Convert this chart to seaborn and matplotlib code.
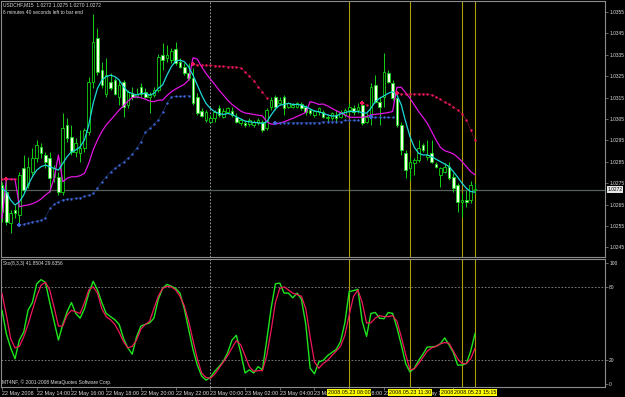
import numpy as np
import matplotlib
matplotlib.use("Agg")
import matplotlib.pyplot as plt
import matplotlib.transforms as mtransforms
import seaborn as sns

# ---------------- data (USDCHF M15, 22 May 2008 12:00 -> 23 May 2008 15:15) ----------------
open_ = [1.02741, 1.02710, 1.02562, 1.02625, 1.02601, 1.02819, 1.02741, 1.02804, 1.02866, 1.02920,
         1.02882, 1.02866, 1.02780, 1.02780, 1.02710, 1.03022, 1.02967, 1.02897, 1.02890, 1.02913,
         1.02991, 1.03224, 1.03427, 1.03279, 1.03169, 1.03224, 1.03232, 1.03154, 1.03224, 1.03115,
         1.03169, 1.03154, 1.03201, 1.03177, 1.03154, 1.03162, 1.03185, 1.03349, 1.03333, 1.03325,
         1.03377, 1.03318, 1.03294, 1.03263, 1.03240, 1.03154, 1.03087, 1.03045, 1.03037, 1.03053,
         1.03100, 1.03061, 1.03084, 1.03087, 1.03061, 1.03029, 1.03029, 1.03025, 1.03022, 1.03029,
         1.03037, 1.03006, 1.03107, 1.03154, 1.03123, 1.03154, 1.03107, 1.03107, 1.03107, 1.03118,
         1.03107, 1.03092, 1.03068, 1.03081, 1.03085, 1.03054, 1.03054, 1.03069, 1.03061, 1.03069,
         1.03092, 1.03100, 1.03092, 1.03116, 1.03038, 1.03069, 1.03209, 1.03131, 1.03155, 1.03265,
         1.03219, 1.03147, 1.03022, 1.02891, 1.02819, 1.02843, 1.02859, 1.02929, 1.02874, 1.02890,
         1.02839, 1.02789, 1.02804, 1.02828, 1.02781, 1.02742, 1.02664, 1.02672, 1.02672, 1.02720]
high = [1.02757, 1.02765, 1.02625, 1.02648, 1.02804, 1.02882, 1.02874, 1.02913, 1.02952, 1.02936,
        1.02897, 1.02897, 1.02835, 1.02804, 1.03076, 1.03053, 1.03022, 1.02959, 1.02999, 1.03006,
        1.03248, 1.03541, 1.03473, 1.03318, 1.03333, 1.03263, 1.03240, 1.03232, 1.03232, 1.03185,
        1.03201, 1.03193, 1.03216, 1.03193, 1.03177, 1.03201, 1.03356, 1.03403, 1.03396, 1.03380,
        1.03411, 1.03333, 1.03310, 1.03310, 1.03287, 1.03170, 1.03100, 1.03092, 1.03068, 1.03092,
        1.03115, 1.03100, 1.03107, 1.03107, 1.03076, 1.03053, 1.03045, 1.03053, 1.03045, 1.03053,
        1.03045, 1.03100, 1.03154, 1.03162, 1.03154, 1.03162, 1.03131, 1.03123, 1.03131, 1.03131,
        1.03115, 1.03100, 1.03092, 1.03107, 1.03092, 1.03069, 1.03085, 1.03092, 1.03092, 1.03100,
        1.03124, 1.03116, 1.03124, 1.03139, 1.03077, 1.03217, 1.03256, 1.03155, 1.03359, 1.03279,
        1.03233, 1.03155, 1.03038, 1.02905, 1.02874, 1.02867, 1.02952, 1.02937, 1.02952, 1.02952,
        1.02851, 1.02828, 1.02843, 1.02851, 1.02796, 1.02750, 1.02703, 1.02719, 1.02758, 1.02750]
low = [1.02570, 1.02554, 1.02515, 1.02586, 1.02554, 1.02702, 1.02726, 1.02788, 1.02850, 1.02866,
       1.02819, 1.02710, 1.02757, 1.02695, 1.02695, 1.02944, 1.02882, 1.02874, 1.02850, 1.02897,
       1.02975, 1.03193, 1.03255, 1.03193, 1.03154, 1.03185, 1.03162, 1.03115, 1.03061, 1.03100,
       1.03138, 1.03146, 1.03154, 1.03146, 1.03076, 1.03154, 1.03177, 1.03279, 1.03318, 1.03310,
       1.03302, 1.03287, 1.03255, 1.03232, 1.03115, 1.03068, 1.03061, 1.03037, 1.03029, 1.03037,
       1.03061, 1.03053, 1.03076, 1.03061, 1.03029, 1.03022, 1.03014, 1.03019, 1.03014, 1.03022,
       1.02991, 1.02999, 1.03092, 1.03092, 1.03115, 1.03068, 1.03100, 1.03100, 1.03100, 1.03092,
       1.03068, 1.03068, 1.03061, 1.03071, 1.03054, 1.03038, 1.03046, 1.03038, 1.03054, 1.03061,
       1.03077, 1.03069, 1.03077, 1.03022, 1.03030, 1.03022, 1.03124, 1.03022, 1.03108, 1.03217,
       1.03139, 1.03014, 1.02882, 1.02773, 1.02765, 1.02789, 1.02851, 1.02898, 1.02859, 1.02843,
       1.02820, 1.02734, 1.02796, 1.02765, 1.02711, 1.02617, 1.02594, 1.02641, 1.02656, 1.02700]
close = [1.02617, 1.02570, 1.02609, 1.02609, 1.02788, 1.02718, 1.02827, 1.02866, 1.02928, 1.02889,
         1.02850, 1.02773, 1.02819, 1.02710, 1.03006, 1.02959, 1.02897, 1.02936, 1.02913, 1.02999,
         1.03224, 1.03411, 1.03271, 1.03209, 1.03255, 1.03193, 1.03169, 1.03209, 1.03107, 1.03177,
         1.03154, 1.03169, 1.03169, 1.03154, 1.03162, 1.03185, 1.03341, 1.03325, 1.03349, 1.03367,
         1.03310, 1.03294, 1.03263, 1.03240, 1.03123, 1.03076, 1.03065, 1.03084, 1.03056, 1.03081,
         1.03068, 1.03087, 1.03100, 1.03068, 1.03037, 1.03045, 1.03022, 1.03045, 1.03034, 1.03045,
         1.02999, 1.03092, 1.03138, 1.03107, 1.03138, 1.03100, 1.03123, 1.03115, 1.03126, 1.03100,
         1.03081, 1.03076, 1.03087, 1.03100, 1.03061, 1.03061, 1.03077, 1.03054, 1.03085, 1.03092,
         1.03108, 1.03085, 1.03108, 1.03030, 1.03061, 1.03201, 1.03131, 1.03108, 1.03271, 1.03223,
         1.03148, 1.03022, 1.02905, 1.02812, 1.02851, 1.02859, 1.02913, 1.02905, 1.02882, 1.02851,
         1.02828, 1.02820, 1.02828, 1.02773, 1.02726, 1.02664, 1.02672, 1.02664, 1.02742, 1.02720]

ma_fast = [1.02726, 1.02710, 1.02671, 1.02648, 1.02663, 1.02695, 1.02741, 1.02780, 1.02811, 1.02827,
           1.02835, 1.02827, 1.02819, 1.02811, 1.02842, 1.02874, 1.02897, 1.02905, 1.02920, 1.02952,
           1.03022, 1.03123, 1.03193, 1.03232, 1.03248, 1.03255, 1.03248, 1.03232, 1.03201, 1.03177,
           1.03169, 1.03162, 1.03169, 1.03169, 1.03162, 1.03169, 1.03193, 1.03209, 1.03255, 1.03294,
           1.03321, 1.03325, 1.03318, 1.03294, 1.03255, 1.03209, 1.03162, 1.03123, 1.03100, 1.03084,
           1.03076, 1.03071, 1.03076, 1.03071, 1.03061, 1.03050, 1.03040, 1.03037, 1.03034, 1.03033,
           1.03029, 1.03037, 1.03068, 1.03097, 1.03115, 1.03118, 1.03123, 1.03118, 1.03118, 1.03115,
           1.03107, 1.03097, 1.03087, 1.03084, 1.03077, 1.03069, 1.03064, 1.03064, 1.03074, 1.03080,
           1.03085, 1.03085, 1.03085, 1.03080, 1.03077, 1.03100, 1.03131, 1.03147, 1.03158, 1.03170,
           1.03178, 1.03162, 1.03116, 1.03038, 1.02968, 1.02918, 1.02890, 1.02882, 1.02882, 1.02874,
           1.02862, 1.02851, 1.02840, 1.02828, 1.02804, 1.02778, 1.02750, 1.02726, 1.02711, 1.02708]
ma_slow = [1.02586, 1.02769, 1.02769, 1.02769, 1.02640, 1.02645, 1.02648, 1.02654, 1.02663, 1.02676,
           1.02695, 1.02710, 1.02773, 1.02882, 1.02757, 1.02773, 1.02780, 1.02780, 1.02785, 1.02796,
           1.02843, 1.02905, 1.02952, 1.02991, 1.03022, 1.03045, 1.03068, 1.03092, 1.03112, 1.03134,
           1.03149, 1.03154, 1.03149, 1.03143, 1.03134, 1.03131, 1.03138, 1.03138, 1.03159, 1.03177,
           1.03190, 1.03201, 1.03212, 1.03232, 1.03336, 1.03330, 1.03294, 1.03263, 1.03237, 1.03212,
           1.03185, 1.03162, 1.03138, 1.03118, 1.03103, 1.03087, 1.03078, 1.03075, 1.03071, 1.03068,
           1.03065, 1.03037, 1.03026, 1.03026, 1.03031, 1.03037, 1.03045, 1.03053, 1.03062, 1.03071,
           1.03081, 1.03131, 1.03126, 1.03118, 1.03120, 1.03111, 1.03100, 1.03089, 1.03080, 1.03069,
           1.03058, 1.03058, 1.03058, 1.03058, 1.03061, 1.03069, 1.03072, 1.03074, 1.03077, 1.03080,
           1.03085, 1.03198, 1.03198, 1.03173, 1.03147, 1.03116, 1.03085, 1.03058, 1.03030, 1.02991,
           1.02952, 1.02918, 1.02902, 1.02895, 1.02887, 1.02871, 1.02851, 1.02828, 1.02804, 1.02789]

psar_up = ([None] * 4 +
           [1.02554, 1.02559, 1.02564, 1.02569, 1.02573, 1.02578, 1.02589, 1.02632, 1.02651, 1.02663,
            1.02673, 1.02676, 1.02678, 1.02679, 1.02682, 1.02688, 1.02695, 1.02702, 1.02726, 1.02757,
            1.02780, 1.02804, 1.02819, 1.02835, 1.02850, 1.02866, 1.02885, 1.02913, 1.02944, 1.02987,
            1.03006, 1.03025, 1.03045, 1.03081, 1.03123, 1.03153, 1.03156, 1.03156, 1.03157, 1.03159] +
           [None] * 19 + [1.03033] * 11 + [1.03038] * 5 + [1.03043] * 4 +
           [None] * 2 + [1.03058] * 6 + [None] * 19)
psar_dn = ([1.02769] * 4 + [None] * 40 +
           [1.03305, 1.03304, 1.03302, 1.03302, 1.03301, 1.03299, 1.03297, 1.03296, 1.03294, 1.03294,
            1.03293, 1.03290, 1.03271, 1.03252, 1.03229, 1.03201, 1.03177, 1.03149] +
           [None] * 21 + [1.03127, 1.03116] + [None] * 6 +
           [1.03170] + [1.03167] * 7 +
           [1.03164, 1.03155, 1.03142, 1.03128, 1.03119, 1.03108, 1.03092, 1.03074, 1.03046, 1.02999, 1.02952])
flip_dn_bars = [1, 44, 83, 91]
flip_dn_vals = [1.02769, 1.03305, 1.03127, 1.03170]
flip_up_bars = [4, 63, 85]
flip_up_vals = [1.02554, 1.03033, 1.03058]

stoch_k = [60.9, 41.5, 29.8, 20.8, 36.3, 42.8, 61.0, 67.3, 82.8, 86.2,
           84.0, 67.3, 51.8, 36.3, 49.2, 59.6, 67.3, 58.3, 54.4, 62.2,
           75.0, 84.9, 77.7, 67.3, 58.3, 55.7, 53.1, 49.2, 37.6, 29.8,
           24.7, 38.9, 47.9, 49.2, 50.5, 54.4, 69.9, 79.0, 82.3, 80.8,
           79.0, 75.1, 62.2, 45.3, 28.5, 15.6, 6.6, 3.2, 5.3, 10.4,
           14.3, 18.7, 26.0, 36.3, 40.2, 26.0, 9.1, 11.7, 9.1, 14.3,
           11.7, 36.3, 62.2, 82.8, 83.4, 75.1, 75.1, 71.2, 75.1, 69.9,
           49.2, 13.0, 8.4, 18.2, 19.5, 23.4, 26.0, 28.5, 35.0, 50.5,
           76.4, 77.2, 78.2, 51.8, 39.4, 58.3, 59.1, 54.4, 53.9, 59.1,
           58.3, 46.6, 32.4, 16.9, 9.9, 13.0, 19.5, 24.7, 30.6, 30.6,
           31.1, 33.2, 38.1, 32.4, 26.0, 15.6, 15.6, 16.9, 27.2, 41.85]
stoch_d = [75.0, 57.0, 37.6, 29.8, 31.1, 38.9, 49.2, 60.9, 72.5, 81.6,
           84.1, 77.7, 63.4, 47.9, 47.9, 57.0, 60.9, 59.6, 58.3, 67.3,
           77.7, 80.3, 75.1, 62.2, 55.7, 53.1, 49.2, 42.8, 35.0, 29.8,
           31.1, 36.3, 45.3, 49.2, 51.8, 62.2, 72.5, 79.0, 80.8, 80.3,
           77.7, 72.5, 64.7, 51.8, 36.3, 20.8, 9.1, 5.3, 4.7, 7.9,
           13.0, 18.2, 23.4, 29.8, 35.8, 32.4, 23.4, 14.3, 10.4, 11.0,
           11.0, 23.4, 44.0, 67.3, 79.0, 80.3, 77.7, 75.1, 73.8, 72.5,
           62.2, 38.9, 18.2, 13.0, 16.9, 19.5, 23.4, 27.2, 31.1, 40.2,
           57.0, 72.5, 77.7, 67.3, 50.5, 50.5, 54.4, 56.5, 55.7, 55.7,
           56.5, 51.8, 38.9, 24.7, 11.7, 12.5, 16.9, 22.1, 27.2, 29.8,
           31.1, 33.2, 34.2, 33.7, 27.2, 20.8, 16.9, 16.9, 20.8, 29.64]

price_ticks = [1.0245, 1.0255, 1.0265, 1.0275, 1.0285, 1.0295, 1.0305, 1.0315, 1.0325, 1.0335, 1.0345, 1.0355]
time_tick_bars = [0, 8, 16, 24, 32, 40, 48, 56, 64, 72, 80, 88, 96, 104]
time_tick_labels = ["22 May 2008", "22 May 14:00", "22 May 16:00", "22 May 18:00", "22 May 20:00",
                    "22 May 22:00", "23 May 00:00", "23 May 02:00", "23 May 04:00", "23 May 06:00",
                    "23 May 08:00", "23 May 10:00", "23 May 12:00", "23 May 14:00"]
day_sep_bar = 48
vline_bars = [80, 94, 106, 109]
vline_labels = ["2008.05.23 08:00", "2008.05.23 11:30", "2008.05.23 14:30", "2008.05.23 15:15"]
bid = 1.0272
header = "USDCHF,M15  1.0272 1.0275 1.0270 1.0272"
timer_text = "6 minutes 40 seconds left to bar end"
stoch_title = "Sto(8,3,3) 41.8504 29.6356"
copyright_text = "MT4NF, \u00a9 2001-2008 MetaQuotes Software Corp."

# ---------------- styling ----------------
W, H = 625, 397
sns.set_theme(style="dark", rc={"axes.facecolor": "black", "figure.facecolor": "black",
                                "axes.edgecolor": "#8c8c8c", "axes.linewidth": 0.8})
plt.rcParams['font.family'] = ['Liberation Sans', 'DejaVu Sans']

GREEN = "#14d214"
WHITE_BODY = "#f2ffe6"
CYAN = "#1ed8d8"
MAGENTA = "#e214e2"
BLUE = "#3c64d2"
RED = "#f0185a"
YELLOW = "#ac9e08"
TXT = "#dcdcdc"
FS = 3.9
FS_SMALL = 3.5

fig = plt.figure(figsize=(W / 100, H / 100), dpi=100, facecolor="black")


def box(x0, y0, x1, y1):
    return [x0 / W, 1 - y1 / H, (x1 - x0) / W, (y1 - y0) / H]


ax = fig.add_axes(box(1, 1, 605, 257))
ax2 = fig.add_axes(box(1, 259, 605, 387), sharex=ax)

idx = np.arange(len(close))
o = np.array(open_); h = np.array(high); l = np.array(low); c = np.array(close)
bull = c >= o

# candles
ax.vlines(idx, l, h, color=GREEN, lw=0.7, zorder=3)
body_b = np.minimum(o, c)
body_h = np.maximum(np.abs(c - o), 0.00003)
ax.bar(idx, body_h, bottom=body_b, width=0.6,
       color=["black" if b else WHITE_BODY for b in bull],
       edgecolor=GREEN, linewidth=0.6, zorder=4)

# indicator lines
sns.lineplot(x=idx, y=ma_slow, ax=ax, color=MAGENTA, lw=0.9, zorder=5)
sns.lineplot(x=idx, y=ma_fast, ax=ax, color=CYAN, lw=0.9, zorder=6)

pu = np.array(psar_up, dtype=float)
pd_ = np.array(psar_dn, dtype=float)
ax.plot(idx, pu, color=BLUE, lw=0.4, alpha=0.6, zorder=6)
ax.plot(idx, pd_, color=RED, lw=0.4, alpha=0.6, zorder=6)
sns.scatterplot(x=idx, y=pu, ax=ax, color=BLUE, s=3, marker="o", linewidth=0, zorder=7)
sns.scatterplot(x=idx, y=pd_, ax=ax, color=RED, s=3, marker="o", linewidth=0, zorder=7)
sns.scatterplot(x=flip_dn_bars, y=flip_dn_vals, ax=ax, color=RED, s=12, marker="P", linewidth=0, zorder=8)
sns.scatterplot(x=flip_up_bars, y=flip_up_vals, ax=ax, color=BLUE, s=12, marker="P", linewidth=0, zorder=8)

# reference lines
ax.axhline(bid, color="#52625a", lw=0.9, zorder=2)
for a in (ax, ax2):
    a.axvline(day_sep_bar, color="#b4b4b4", lw=0.6, ls=(0, (2, 2)), zorder=1)
    for b in vline_bars:
        a.axvline(b, color=YELLOW, lw=0.8, zorder=2)

# stochastic
sns.lineplot(x=idx, y=stoch_k, ax=ax2, color="#1ee61e", lw=1.0, zorder=4)
sns.lineplot(x=idx, y=stoch_d, ax=ax2, color=RED, lw=0.9, zorder=5)
for lv in (20, 80):
    ax2.axhline(lv, color="#8c8c8c", lw=0.6, ls=(0, (2, 2)), zorder=1)

# limits
x0 = (1 - 2) / 4.34
x1 = (605 - 2) / 4.34
ax.set_xlim(x0, x1)
ax.set_ylim(1.024051, 1.036014)
ax2.set_ylim(-2.5, 103.3)

for a in (ax, ax2):
    a.set_xlabel("")
    a.set_ylabel("")
    a.grid(False)
    a.set_facecolor("black")
    for s in a.spines.values():
        s.set_color("#8c8c8c")
        s.set_linewidth(0.8)
    a.yaxis.tick_right()
    a.tick_params(axis="y", which="both", right=True, left=False, length=2, width=0.5,
                  color="#8c8c8c", labelcolor=TXT, labelsize=FS_SMALL, pad=1)

ax.set_yticks(price_ticks)
ax.set_yticklabels([f"{p:.4f}" for p in price_ticks])
ax.tick_params(axis="x", bottom=False, labelbottom=False)

ax2.set_yticks([0, 20, 80, 100])
ax2.set_yticklabels(["0", "20", "80", "100"])
ax2.set_xticks(time_tick_bars)
ax2.set_xticklabels(time_tick_labels)
ax2.tick_params(axis="x", bottom=True, length=2, width=0.5, color="#8c8c8c",
                labelcolor=TXT, labelsize=FS, pad=1)
for t in ax2.get_xticklabels():
    t.set_horizontalalignment("left")

# texts
ax.text(2 / 604, 1 - 4 / 256, header, transform=ax.transAxes, color=TXT, fontsize=FS_SMALL,
        ha="left", va="center")
ax.text(2 / 604, 1 - 11 / 256, timer_text, transform=ax.transAxes, color=TXT, fontsize=FS_SMALL,
        ha="left", va="center")
trans_r = mtransforms.blended_transform_factory(ax.transAxes, ax.transData)
ax.text(1.004, bid, f"{bid:.4f}", transform=trans_r, color="black", fontsize=FS_SMALL,
        ha="left", va="center", clip_on=False, zorder=20,
        bbox=dict(facecolor="#e6e6e6", edgecolor="none", pad=0.5))

ax2.text(2 / 604, 1 - 5 / 128, stoch_title, transform=ax2.transAxes, color=TXT, fontsize=FS_SMALL,
         ha="left", va="center")
ax2.text(1 / 604, 5 / 128, copyright_text, transform=ax2.transAxes, color=TXT, fontsize=FS_SMALL,
         ha="left", va="center")

trans_b = mtransforms.blended_transform_factory(ax2.transData, ax2.transAxes)
for b, lab in zip(vline_bars, vline_labels):
    ax2.text(b, -5.5 / 128, lab, transform=trans_b, color="black", fontsize=FS,
             ha="center", va="center", clip_on=False, zorder=30,
             bbox=dict(facecolor="#ffff00", edgecolor="none", pad=0.5))

fig.savefig("out.png", dpi=100, facecolor="black")
